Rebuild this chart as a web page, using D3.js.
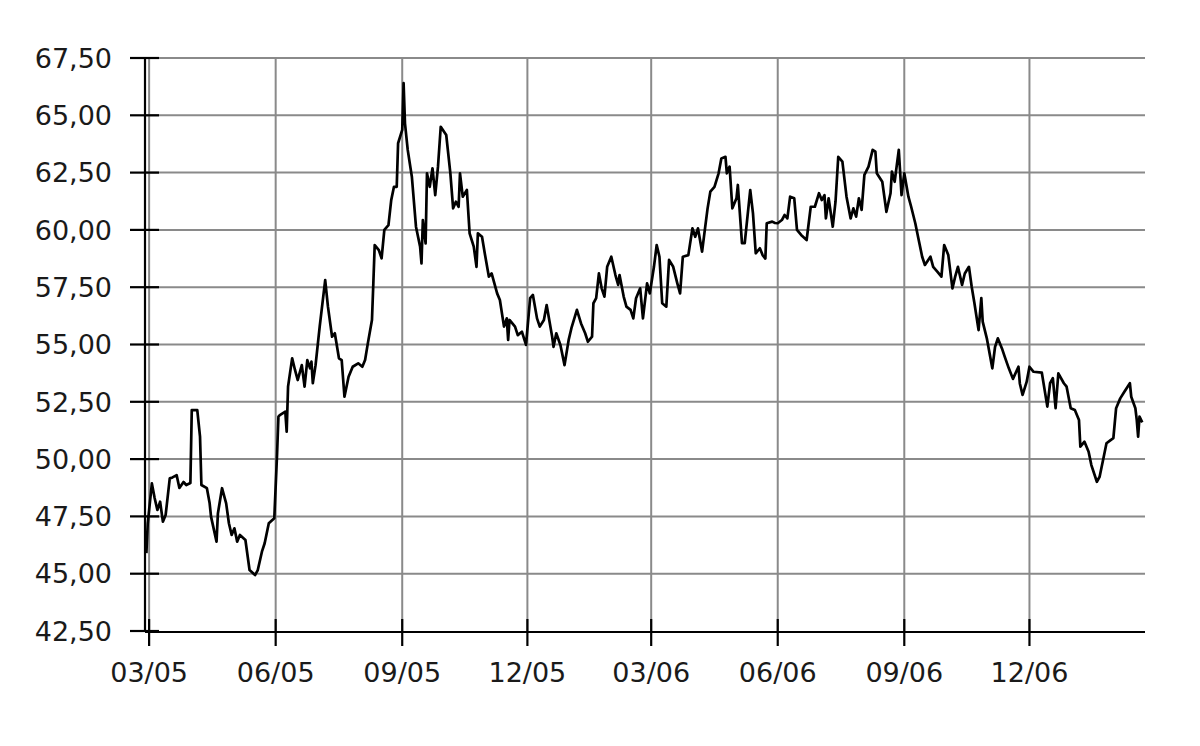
<!DOCTYPE html>
<html>
<head>
<meta charset="utf-8">
<script src="https://cdn.jsdelivr.net/npm/d3@7/dist/d3.min.js"></script>
<style>
  html, body { margin: 0; padding: 0; background: #ffffff; }
  svg { display: block; }
</style>
</head>
<body>
<svg id="chart" width="1200" height="746"></svg>
<script>
// ---------------- DATA ----------------
const yTicks = [42.5, 45, 47.5, 50, 52.5, 55, 57.5, 60, 62.5, 65, 67.5];
const yTickLabels = ["42,50","45,00","47,50","50,00","52,50","55,00","57,50","60,00","62,50","65,00","67,50"];
const xTicks = ["2005-03-01","2005-06-01","2005-09-01","2005-12-01","2006-03-01","2006-06-01","2006-09-01","2006-12-01"];
const xTickLabels = ["03/05","06/05","09/05","12/05","03/06","06/06","09/06","12/06"];
const xDomain = ["2005-02-26","2007-02-23"];

const dates = [
"2005-02-27","2005-02-28","2005-03-03","2005-03-05","2005-03-07","2005-03-09","2005-03-11","2005-03-13",
"2005-03-16","2005-03-18","2005-03-21","2005-03-23","2005-03-26","2005-03-28","2005-03-31","2005-04-01",
"2005-04-05","2005-04-07","2005-04-08","2005-04-12","2005-04-14","2005-04-15","2005-04-19","2005-04-20",
"2005-04-23","2005-04-26","2005-04-28","2005-04-30","2005-05-02","2005-05-04","2005-05-06","2005-05-10",
"2005-05-13","2005-05-17","2005-05-19","2005-05-22","2005-05-24","2005-05-27","2005-05-31","2005-06-02",
"2005-06-03","2005-06-04","2005-06-08","2005-06-09","2005-06-10","2005-06-13","2005-06-15","2005-06-17",
"2005-06-20","2005-06-22","2005-06-24","2005-06-26","2005-06-27","2005-06-28","2005-06-30","2005-07-03",
"2005-07-07","2005-07-09","2005-07-12","2005-07-14","2005-07-17","2005-07-19","2005-07-21","2005-07-24",
"2005-07-27","2005-07-31","2005-08-03","2005-08-05","2005-08-07","2005-08-10","2005-08-11","2005-08-12",
"2005-08-15","2005-08-17","2005-08-19","2005-08-22","2005-08-24","2005-08-26","2005-08-28","2005-08-29",
"2005-09-01","2005-09-02","2005-09-03","2005-09-05","2005-09-08","2005-09-11","2005-09-14","2005-09-15",
"2005-09-16","2005-09-18","2005-09-19","2005-09-21","2005-09-23","2005-09-25","2005-09-27","2005-09-29",
"2005-10-03","2005-10-06","2005-10-08","2005-10-10","2005-10-12","2005-10-13","2005-10-15","2005-10-18",
"2005-10-20","2005-10-23","2005-10-25","2005-10-26","2005-10-29","2005-10-31","2005-11-03","2005-11-05",
"2005-11-09","2005-11-11","2005-11-14","2005-11-16","2005-11-17","2005-11-18","2005-11-22","2005-11-24",
"2005-11-27","2005-11-30","2005-12-03","2005-12-05","2005-12-08","2005-12-10","2005-12-13","2005-12-15",
"2005-12-19","2005-12-20","2005-12-22","2005-12-25","2005-12-28","2005-12-31","2006-01-02","2006-01-06",
"2006-01-09","2006-01-12","2006-01-14","2006-01-17","2006-01-18","2006-01-20","2006-01-22","2006-01-24",
"2006-01-26","2006-01-28","2006-01-31","2006-02-03","2006-02-05","2006-02-06","2006-02-09","2006-02-11",
"2006-02-14","2006-02-16","2006-02-18","2006-02-21","2006-02-23","2006-02-26","2006-02-28","2006-03-03",
"2006-03-05","2006-03-07","2006-03-09","2006-03-12","2006-03-14","2006-03-17","2006-03-20","2006-03-22",
"2006-03-24","2006-03-28","2006-03-31","2006-04-02","2006-04-04","2006-04-07","2006-04-09","2006-04-11",
"2006-04-13","2006-04-16","2006-04-19","2006-04-21","2006-04-24","2006-04-25","2006-04-27","2006-04-29",
"2006-05-02","2006-05-03","2006-05-06","2006-05-08","2006-05-12","2006-05-14","2006-05-16","2006-05-19",
"2006-05-21","2006-05-23","2006-05-24","2006-05-28","2006-05-30","2006-06-01","2006-06-04","2006-06-06",
"2006-06-08","2006-06-10","2006-06-13","2006-06-15","2006-06-18","2006-06-22","2006-06-25","2006-06-28",
"2006-07-01","2006-07-03","2006-07-05","2006-07-06","2006-07-08","2006-07-11","2006-07-13","2006-07-15",
"2006-07-18","2006-07-21","2006-07-24","2006-07-26","2006-07-28","2006-07-30","2006-08-01","2006-08-03",
"2006-08-06","2006-08-09","2006-08-11","2006-08-12","2006-08-16","2006-08-19","2006-08-22","2006-08-23",
"2006-08-25","2006-08-28","2006-08-30","2006-09-01","2006-09-04","2006-09-06","2006-09-09","2006-09-11",
"2006-09-14","2006-09-16","2006-09-20","2006-09-22","2006-09-25","2006-09-28","2006-09-30","2006-10-03",
"2006-10-06","2006-10-08","2006-10-10","2006-10-13","2006-10-15","2006-10-18","2006-10-20","2006-10-22",
"2006-10-25","2006-10-27","2006-10-28","2006-10-31","2006-11-04","2006-11-06","2006-11-08","2006-11-11",
"2006-11-13","2006-11-16","2006-11-19","2006-11-23","2006-11-24","2006-11-26","2006-11-29","2006-12-01",
"2006-12-04","2006-12-10","2006-12-14","2006-12-16","2006-12-18","2006-12-20","2006-12-22","2006-12-26",
"2006-12-28","2006-12-31","2007-01-03","2007-01-06","2007-01-07","2007-01-10","2007-01-13","2007-01-15",
"2007-01-19","2007-01-21","2007-01-24","2007-01-26","2007-01-29","2007-01-31","2007-02-02","2007-02-05",
"2007-02-08","2007-02-12","2007-02-13","2007-02-16","2007-02-17","2007-02-18","2007-02-19","2007-02-21"
];

const prices = [
45.90,47.20,48.94,48.30,47.78,48.14,47.27,47.56,
49.16,49.20,49.30,48.74,49.00,48.87,48.96,52.14,
52.14,50.98,48.87,48.73,48.07,47.49,46.40,47.63,
48.73,48.07,47.20,46.69,46.98,46.40,46.69,46.47,
45.16,44.94,45.16,45.96,46.33,47.20,47.42,50.20,
51.85,51.92,52.07,51.20,53.16,54.40,53.90,53.45,
54.10,53.16,54.32,53.96,54.25,53.31,54.10,55.78,
57.81,56.65,55.34,55.49,54.40,54.32,52.72,53.59,
54.03,54.18,54.03,54.32,55.05,56.07,57.67,59.34,
59.12,58.76,60.00,60.21,61.30,61.88,61.88,63.78,
64.36,66.40,64.65,63.49,62.32,60.14,59.27,58.54,
60.43,59.41,62.47,61.88,62.69,61.52,62.76,64.50,
64.14,62.47,60.94,61.23,61.01,62.47,61.45,61.74,
59.85,59.27,58.39,59.85,59.70,58.98,57.96,58.10,
57.23,56.94,55.78,56.14,55.20,56.07,55.78,55.41,
55.56,54.98,57.02,57.16,56.14,55.78,56.07,56.72,
55.34,54.90,55.49,54.98,54.10,55.20,55.71,56.51,
55.92,55.49,55.12,55.34,56.80,57.02,58.10,57.45,
57.09,58.39,58.83,58.03,57.60,58.03,57.09,56.65,
56.51,56.14,57.02,57.45,56.14,57.67,57.23,58.39,
59.34,58.83,56.80,56.65,58.69,58.39,57.67,57.23,
58.83,58.90,60.07,59.70,60.07,59.05,60.00,60.94,
61.67,61.88,62.47,63.12,63.19,62.47,62.76,60.94,
61.38,61.96,59.42,59.42,61.74,60.72,58.98,59.20,
58.90,58.75,60.29,60.36,60.30,60.29,60.43,60.65,
60.50,61.45,61.38,60.00,59.78,59.56,61.01,61.01,
61.60,61.30,61.52,60.50,61.38,60.14,61.23,63.19,
62.98,61.45,60.50,60.94,60.58,61.38,60.87,62.40,
62.76,63.49,63.41,62.47,62.10,60.79,61.60,62.54,
62.10,63.49,61.52,62.47,61.45,61.01,60.29,59.70,
58.83,58.47,58.83,58.39,58.18,57.96,59.34,58.90,
57.45,57.96,58.39,57.60,58.10,58.39,57.52,56.80,
55.63,57.02,56.00,55.27,53.96,54.90,55.27,54.83,
54.47,53.96,53.50,54.03,53.30,52.80,53.38,54.03,
53.81,53.77,52.29,53.31,53.53,52.22,53.74,53.31,
53.16,52.22,52.14,51.71,50.54,50.76,50.32,49.74,
49.01,49.23,50.10,50.69,50.83,50.91,52.22,52.65,
52.94,53.31,52.72,52.22,51.71,50.98,51.85,51.60
];

// ---------------- CHART ----------------
const parse = d3.timeParse("%Y-%m-%d");
const data = dates.map((d, i) => ({ date: parse(d), value: prices[i] }));

const svg = d3.select("#chart");
const x = d3.scaleTime().domain(xDomain.map(parse)).range([145, 1145]);
const y = d3.scaleLinear().domain([42.5, 67.5]).range([631, 58]);

const gridColor = "#8a8a8a";
const font = "'DejaVu Sans', Verdana, sans-serif";

// horizontal gridlines
svg.append("g").selectAll("line").data(yTicks.slice(1)).join("line")
  .attr("x1", x.range()[0]).attr("x2", x.range()[1])
  .attr("y1", d => y(d)).attr("y2", d => y(d))
  .attr("stroke", gridColor).attr("stroke-width", 2);

// vertical gridlines
svg.append("g").selectAll("line").data(xTicks).join("line")
  .attr("x1", d => x(parse(d))).attr("x2", d => x(parse(d)))
  .attr("y1", y.range()[1]).attr("y2", y.range()[0])
  .attr("stroke", gridColor).attr("stroke-width", 2);

// data line
const line = d3.line().x(d => x(d.date)).y(d => y(d.value));
svg.append("path").datum(data)
  .attr("d", line)
  .attr("fill", "none")
  .attr("stroke", "#000")
  .attr("stroke-width", 2.7)
  .attr("stroke-linejoin", "round");

// axes lines
svg.append("line")
  .attr("x1", x.range()[0]).attr("x2", x.range()[0])
  .attr("y1", y.range()[1]).attr("y2", y.range()[0] + 1)
  .attr("stroke", "#000").attr("stroke-width", 2.2);
svg.append("line")
  .attr("x1", x.range()[0]).attr("x2", x.range()[1])
  .attr("y1", y.range()[0] + 1).attr("y2", y.range()[0] + 1)
  .attr("stroke", "#000").attr("stroke-width", 2.2);

// y tick marks crossing the axis
svg.append("g").selectAll("line").data(yTicks).join("line")
  .attr("x1", x.range()[0] - 15).attr("x2", x.range()[0] + 14)
  .attr("y1", d => y(d)).attr("y2", d => y(d))
  .attr("stroke", "#000").attr("stroke-width", 2.2);

// x tick marks crossing the axis
svg.append("g").selectAll("line").data(xTicks).join("line")
  .attr("x1", d => x(parse(d))).attr("x2", d => x(parse(d)))
  .attr("y1", y.range()[0] - 12).attr("y2", y.range()[0] + 15)
  .attr("stroke", "#000").attr("stroke-width", 2.2);

// y labels
svg.append("g").selectAll("text").data(yTicks).join("text")
  .attr("x", 112).attr("y", d => y(d))
  .attr("dy", "0.36em")
  .attr("text-anchor", "end")
  .attr("font-family", font).attr("font-size", 27)
  .attr("fill", "#1a1a1a")
  .text((d, i) => yTickLabels[i]);

// x labels
svg.append("g").selectAll("text").data(xTicks).join("text")
  .attr("x", d => x(parse(d))).attr("y", 682)
  .attr("text-anchor", "middle")
  .attr("font-family", font).attr("font-size", 27)
  .attr("fill", "#1a1a1a")
  .text((d, i) => xTickLabels[i]);
</script>
</body>
</html>
